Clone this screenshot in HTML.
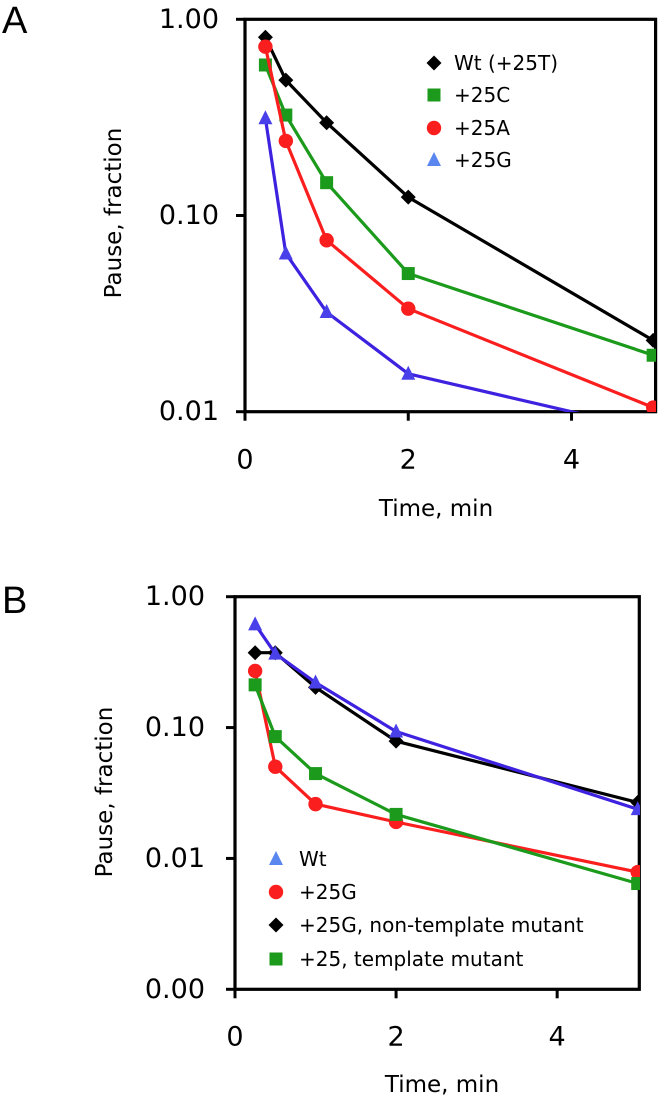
<!DOCTYPE html>
<html><head><meta charset="utf-8"><style>
html,body{margin:0;padding:0;background:#fff;}
svg{display:block;font-family:"DejaVu Sans","Liberation Sans",sans-serif;}
</style></head><body>
<svg id="fig" width="661" height="1102" viewBox="0 0 661 1102" xmlns="http://www.w3.org/2000/svg">
<defs>
<clipPath id="clipA"><rect x="245" y="19" width="411" height="393"/></clipPath>
<clipPath id="clipB"><rect x="235" y="596" width="405" height="393"/></clipPath>
</defs>
<text x="2" y="33" font-family="Liberation Sans, sans-serif" font-size="38">A</text>
<text x="2" y="613" font-family="Liberation Sans, sans-serif" font-size="38">B</text>
<g id="panelA"></g>
<g id="panelB"></g>
</svg>
<script>
// ---- Panel A data ----
const timesA = [0.25, 0.5, 1, 2, 5];
const seriesNamesA = ["Wt (+25T)", "+25C", "+25A", "+25G"];
const wtA = [0.81, 0.49, 0.297, 0.124, 0.0231];
const c25A = [0.585, 0.325, 0.147, 0.0506, 0.0194];
const a25A = [0.725, 0.24, 0.0748, 0.0335, 0.0105];
const g25A = [0.313, 0.064, 0.0322, 0.0156, 0.008];
const yTicksA = [1, 0.1, 0.01];
const yTickLabelsA = ["1.00", "0.10", "0.01"];
const xTicks = [0, 2, 4];
const xTickLabels = ["0", "2", "4"];
// ---- Panel B data ----
const timesB = [0.25, 0.5, 1, 2, 5];
const seriesNamesB = ["Wt", "+25G", "+25G, non-template mutant", "+25, template mutant"];
const wtB = [0.615, 0.367, 0.221, 0.0933, 0.0238];
const g25B = [0.271, 0.0502, 0.026, 0.019, 0.00786];
const ntB = [0.373, 0.373, 0.203, 0.0787, 0.0268];
const tB = [0.212, 0.0853, 0.0445, 0.0217, 0.00643];
const yTicksB = [1, 0.1, 0.01, 0.001];
const yTickLabelsB = ["1.00", "0.10", "0.01", "0.00"];

const NS = "http://www.w3.org/2000/svg";
function mk(tag, attrs, parent){const e=document.createElementNS(NS,tag);for(const k in attrs)e.setAttribute(k,attrs[k]);parent.appendChild(e);return e;}
const COL = {black:"#000", green:"#1b9a1b", red:"#fa1e1e", blue:"#3d22e0", blueM:"#4a40ea", blueL:"#5a86f0"};

function marker(g, shape, cx, cy, fill){
  let m;
  if(shape==="diamond") m=mk("polygon",{points:`${cx},${cy-7.5} ${cx+7.5},${cy} ${cx},${cy+7.5} ${cx-7.5},${cy}`,fill:fill},g);
  else if(shape==="square") m=mk("rect",{x:cx-6.5,y:cy-6.5,width:13,height:13,fill:fill},g);
  else if(shape==="circle") m=mk("circle",{cx:cx,cy:cy,r:7.2,fill:fill},g);
  else m=mk("polygon",{points:`${cx},${cy-8} ${cx+7},${cy+6} ${cx-7},${cy+6}`,fill:fill},g);
  return m;
}

function panel(g, cfg){
  const {x0,x1,y0,y1,xMax,logMin,logMax,clip} = cfg;
  const xs = v => x0 + v/xMax*(x1-x0);
  const ys = v => y1 - (Math.log10(v)-logMin)/(logMax-logMin)*(y1-y0);
  // frame
  const frame = mk("rect",{x:x0,y:y0,width:x1-x0,height:y1-y0,fill:"none",stroke:"#000","stroke-width":3.2},g);
  
  
  cfg.yTicks.forEach((t,i)=>{
    const y=ys(t);
    const tk=mk("line",{x1:x0-9,x2:x0,y1:y,y2:y,stroke:"#000","stroke-width":3},g);
    
    
    const tl=mk("text",{x:cfg.yLabelRight,y:y,"font-size":27,"text-anchor":"end","dominant-baseline":"central"},g);
    tl.textContent=cfg.yTickLabels[i];
    
    
  });
  xTicks.forEach((t,i)=>{
    const x=xs(t);
    const tk=mk("line",{x1:x,x2:x,y1:y1,y2:y1+9,stroke:"#000","stroke-width":3},g);
    
    
    const tl=mk("text",{x:x,y:cfg.xLabelY,"font-size":27,"text-anchor":"middle","dominant-baseline":"central"},g);
    tl.textContent=xTickLabels[i];
    
    
  });
  const xt=mk("text",{x:cfg.xTitleX,y:cfg.xTitleY,"font-size":23,"text-anchor":"middle","dominant-baseline":"central"},g);
  xt.textContent="Time, min";
  
  
  const yt=mk("text",{x:0,y:0,"font-size":23,"text-anchor":"middle","dominant-baseline":"central",transform:`translate(${cfg.yTitleX},${cfg.yTitleY}) rotate(-90)`},g);
  yt.textContent="Pause, fraction";
  
  
  const dg=mk("g",{"clip-path":`url(#${clip})`},g);
  cfg.series.forEach(s=>{
    const sg=mk("g",{},dg);
    
    
    const pts=s.vals.map((v,i)=>xs(cfg.times[i]).toFixed(1)+","+ys(v).toFixed(1)).join(" ");
    const pl=mk("polyline",{points:pts,fill:"none",stroke:s.line,"stroke-width":3.2,"stroke-linejoin":"round"},sg);
    
    
    s.vals.forEach((v,i)=>{
      const m=marker(sg,s.shape,xs(cfg.times[i]),ys(v),s.mark);
      
      
    });
  });
  const lg=mk("g",{},g);
  
  
  cfg.legend.forEach((L,i)=>{
    const y=cfg.legY[i];
    const eg=mk("g",{},lg);
    
    
    marker(eg,L.shape,cfg.legMX,y,L.color);
    const t=mk("text",{x:cfg.legTX,y:y,"font-size":20,"dominant-baseline":"central"},eg);
    t.textContent=L.name;
  });
}

panel(document.getElementById("panelA"),{
  x0:245,x1:655.6,y0:19.3,y1:411.7,xMax:5.03,logMin:-2,logMax:0,clip:"clipA",
  yTicks:yTicksA,yTickLabels:yTickLabelsA,yLabelRight:219,xLabelY:460,
  xTitleX:436,xTitleY:509,yTitleX:114,yTitleY:213,times:timesA,
  series:[
    {key:"wt",vals:wtA,line:COL.black,mark:COL.black,shape:"diamond"},
    {key:"c",vals:c25A,line:COL.green,mark:COL.green,shape:"square"},
    {key:"a",vals:a25A,line:COL.red,mark:COL.red,shape:"circle"},
    {key:"g",vals:g25A,line:COL.blue,mark:COL.blueM,shape:"triangle"}],
  legend:[
    {name:seriesNamesA[0],shape:"diamond",color:COL.black},
    {name:seriesNamesA[1],shape:"square",color:COL.green},
    {name:seriesNamesA[2],shape:"circle",color:COL.red},
    {name:seriesNamesA[3],shape:"triangle",color:COL.blueL}],
  legY:[63,95,128,160],legMX:434,legTX:454
});
panel(document.getElementById("panelB"),{
  x0:235,x1:639.3,y0:596.7,y1:989.3,xMax:5.02,logMin:-3,logMax:0,clip:"clipB",
  yTicks:yTicksB,yTickLabels:yTickLabelsB,yLabelRight:205,xLabelY:1037,
  xTitleX:442,xTitleY:1085,yTitleX:105,yTitleY:792,times:timesB,
  series:[
    {key:"nt",vals:ntB,line:COL.black,mark:COL.black,shape:"diamond"},
    {key:"wt",vals:wtB,line:COL.blue,mark:COL.blueM,shape:"triangle"},
    {key:"g",vals:g25B,line:COL.red,mark:COL.red,shape:"circle"},
    {key:"t",vals:tB,line:COL.green,mark:COL.green,shape:"square"}],
  legend:[
    {name:seriesNamesB[0],shape:"triangle",color:COL.blueL},
    {name:seriesNamesB[1],shape:"circle",color:COL.red},
    {name:seriesNamesB[2],shape:"diamond",color:COL.black},
    {name:seriesNamesB[3],shape:"square",color:COL.green}],
  legY:[859,892,925,959],legMX:276,legTX:299
});
</script>
</body></html>
